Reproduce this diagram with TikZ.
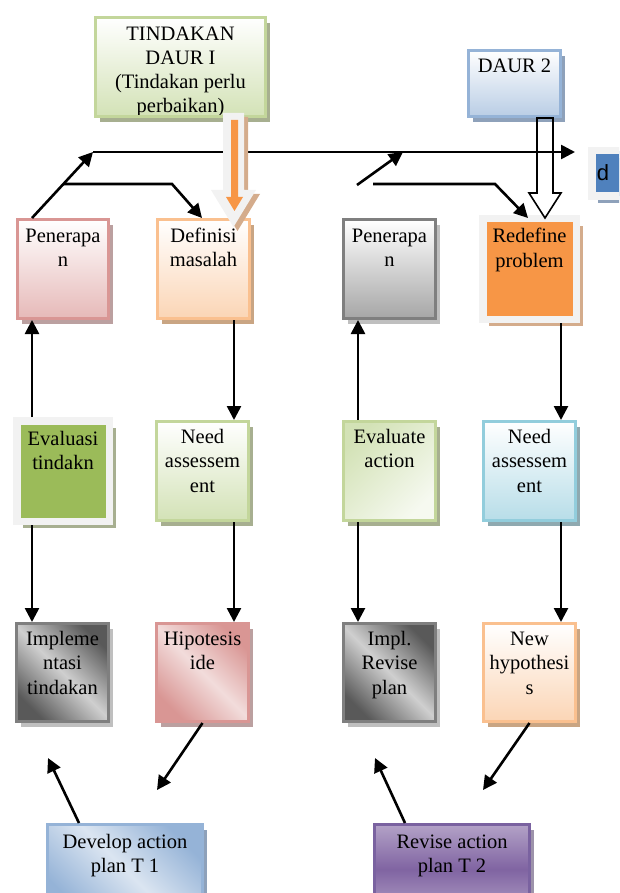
\documentclass[tikz,border=0pt]{standalone}
\usepackage{fontspec}
\setmainfont{Liberation Serif}
\newfontfamily\dfont{Liberation Sans}
\usetikzlibrary{arrows.meta,calc,shadows}
\definecolor{gBord}{HTML}{C3D69B}
\definecolor{gFill}{HTML}{D3E2B6}
\definecolor{gShad}{HTML}{A7AF90}
\definecolor{pBord}{HTML}{D99694}
\definecolor{pFill}{HTML}{E6B9B8}
\definecolor{pLight}{HTML}{F2DCDB}
\definecolor{pShad}{HTML}{BBA0A0}
\definecolor{oBord}{HTML}{FAC08F}
\definecolor{oFill}{HTML}{FBD5B5}
\definecolor{oShad}{HTML}{C9A583}
\definecolor{orng}{HTML}{F79646}
\definecolor{tanShad}{HTML}{D4AC8C}
\definecolor{kBord}{HTML}{7F7F7F}
\definecolor{kFill}{HTML}{A6A6A6}
\definecolor{kDark}{HTML}{595959}
\definecolor{kLight}{HTML}{CFCFCF}
\definecolor{kShad}{HTML}{BFBFBF}
\definecolor{frameGray}{HTML}{F2F2F2}
\definecolor{leaf}{HTML}{9BBB59}
\definecolor{cBord}{HTML}{92CDDC}
\definecolor{cFill}{HTML}{B7DDE8}
\definecolor{cShad}{HTML}{8FA9B0}
\definecolor{bBord}{HTML}{95B3D7}
\definecolor{bFill}{HTML}{B9CDE5}
\definecolor{bLight}{HTML}{DBE5F1}
\definecolor{bShad}{HTML}{8EA1BA}
\definecolor{dBlue}{HTML}{4F81BD}
\definecolor{vBord}{HTML}{7A62A0}
\definecolor{vLight}{HTML}{B3A2C7}
\definecolor{vDark}{HTML}{8064A2}
\definecolor{vShad}{HTML}{9D93AA}
\newcommand\fs{\fontsize{20.5pt}{24.5pt}\selectfont}
\newcommand\bx[4]{\parbox[t][#2pt][t]{#1pt}{\centering\rule{0pt}{#3pt}#4}}
\begin{document}
\begin{tikzpicture}[x=1pt,y=-1pt,
  box/.style={inner sep=0pt, line width=2.8pt, anchor=north west, font=\fs},
  fbox/.style={inner sep=0pt, line width=7.5pt, draw=frameGray, anchor=north west, font=\fs},
  shad/.style={drop shadow={shadow xshift=4.2pt, shadow yshift=-5.2pt, fill=#1, opacity=1}},
  fshad/.style={drop shadow={shadow xshift=6.5pt, shadow yshift=-6.8pt, fill=#1, opacity=1}},
  diag/.style n args={2}{left color=#1, right color=#1, middle color=#2, shading angle=-45},
  arr/.style={line width=2.6pt, -{Triangle[length=14pt,width=14pt]}}]
\useasboundingbox (0,0) rectangle (619,893);
\clip (0,0) rectangle (619,893);

% top boxes
\node[box, draw=gBord, top color=white, bottom color=gFill, shad=gShad,
      minimum width=170.2pt, minimum height=99.2pt] (tind) at (94,16) {};
\begin{scope}
\clip ($(tind.north west)+(2,2)$) rectangle ($(tind.south east)+(-2,-3.8)$);
\node[anchor=north, inner sep=0pt, font=\fontsize{20.5pt}{24pt}\selectfont] (tindtxt) at (tind.north)
  {\parbox[t]{168pt}{\centering\rule{0pt}{24pt}TINDAKAN\\DAUR I\\(Tindakan perlu\\perbaikan)}};
\end{scope}
\node[box, draw=bBord, top color=white, bottom color=bFill, shad=bShad] (daur) at (467,49) {\bx{92.2}{66.2}{22.6}{DAUR 2}};
\node[fbox, fill=dBlue, fshad=bShad] (dd) at (588,147) {\bx{60}{45.5}{29.5}{\raggedright\hspace*{5pt}\dfont\fontsize{22pt}{24pt}\selectfont d}};

% row 1
\node[box, draw=pBord, top color=white, bottom color=pFill, shad=pShad] (pen1) at (16,218) {\bx{91.2}{99.2}{22.6}{Penerapa\\n}};
\node[box, draw=oBord, top color=white, bottom color=oFill, shad=oShad] (def) at (156,218) {\bx{92.2}{99.2}{22.6}{Definisi\\masalah}};
\node[box, draw=kBord, top color=white, bottom color=kFill, shad=kShad] (pen2) at (342,218) {\bx{92.2}{99.2}{22.6}{Penerapa\\n}};
\node[fbox, fill=orng, fshad=tanShad] (red) at (479,215) {\bx{93.5}{100.5}{24.25}{Redefine\\problem}};

% row 2
\node[fbox, fill=leaf, fshad=gShad] (eva1) at (13,417) {\bx{92.5}{100.5}{24.25}{Evaluasi\\tindakn}};
\node[box, draw=gBord, top color=white, bottom color=gFill, shad=gShad] (need1) at (155,420) {\bx{92.2}{99.2}{22}{Need\\assessem\\ent}};
\node[box, draw=gBord, left color=gFill, right color=white!80!gFill, shading angle=45, shad=gShad] (eva2) at (342,420) {\bx{92.2}{99.2}{22}{Evaluate\\action}};
\node[box, draw=cBord, top color=white, bottom color=cFill, shad=cShad] (need2) at (482,420) {\bx{92.2}{99.2}{22}{Need\\assessem\\ent}};

% row 3
\node[box, draw=kBord, diag={kDark}{kLight}, shad=kShad] (imp1) at (15,622) {\bx{92.2}{98.2}{21.6}{Impleme\\ntasi\\tindakan}};
\node[box, draw=pBord, diag={pBord}{pLight}, shad=pShad] (hip) at (155,622) {\bx{92.2}{98.2}{21.6}{Hipotesis\\ide}};
\node[box, draw=kBord, diag={kDark}{kLight}, shad=kShad] (imp2) at (342,622) {\bx{92.2}{98.2}{21.6}{Impl.\\Revise\\plan}};
\node[box, draw=oBord, top color=white, bottom color=oFill, shad=oShad] (new) at (482,622) {\bx{92.2}{98.2}{21.6}{New\\hypothesi\\s}};

% bottom
\node[box, draw=bBord, diag={bBord}{bLight}, shad=bShad] (dev) at (46,823) {\bx{155.2}{90}{23.6}{Develop action\\plan T 1}};
\node[box, draw=vBord, top color=vLight, bottom color=vLight, middle color=vDark, shad=vShad] (rev) at (373,823) {\bx{155.2}{90}{23.6}{Revise action\\plan T 2}};

% column guides
\coordinate (colA) at (32,0);
\coordinate (colB) at (234,0);
\coordinate (colC) at (358,0);
\coordinate (colD) at (561,0);

% top connectors
\coordinate (j1) at (93,152);
\coordinate (e1) at (575,152);
\coordinate (k1) at (63,184);
\coordinate (k2) at (172,184);
\coordinate (m1) at (357,185);
\coordinate (m2) at (403,152);
\coordinate (n1) at (373,184);
\coordinate (n2) at (495,184);
\draw[arr] (colA |- pen1.north) -- (j1);
\draw[arr] (j1) -- (e1);
\draw[arr] (k1) -- (k2) -- ($(def.north)+(-1.5,0)$);
\draw[arr] (m1) -- (m2);
\draw[arr] (n1) -- (n2) -- ($(red.north)+(-1.5,3)$);

% vertical connectors
\draw[arr] (colA |- eva1.north) -- (colA |- pen1.south);
\draw[arr] (colA |- eva1.south) -- (colA |- imp1.north);
\draw[arr] (colB |- def.south) -- (colB |- need1.north);
\draw[arr] (colB |- need1.south) -- (colB |- hip.north);
\draw[arr] (colC |- eva2.north) -- (colC |- pen2.south);
\draw[arr] (colC |- eva2.south) -- (colC |- imp2.north);
\draw[arr] (colD |- red.south) -- (colD |- need2.north);
\draw[arr] (colD |- need2.south) -- (colD |- new.north);

% bottom connectors
\coordinate (p1) at (157,790);
\coordinate (p2) at (48,758);
\coordinate (p3) at (483,790);
\coordinate (p4) at (375,758);
\draw[arr] (hip.south) -- (p1);
\draw[arr] ($(dev.north west)+(33,0)$) -- (p2);
\draw[arr] (new.south) -- (p3);
\draw[arr] ($(rev.north west)+(32,0)$) -- (p4);

% orange block arrow
\fill[tanShad] (227,117) -- (248,117) -- (248,194) -- (260,194) -- (237.5,231) -- (215,194) -- (227,194) -- cycle;
\fill[frameGray] (223,113) -- (244,113) -- (244,190) -- (256,190) -- (233.5,227) -- (211,190) -- (223,190) -- cycle;
\fill[orng] (231,120) -- (238,120) -- (238,197) -- (243,197) -- (234.5,211) -- (226,197) -- (231,197) -- cycle;

% hollow block arrow
\draw[line width=1.6pt, line join=miter] (537,118) -- (553,118) -- (553,193) -- (561,193) -- (545,218) -- (529,193) -- (537,193) -- cycle;
\end{tikzpicture}
\end{document}
